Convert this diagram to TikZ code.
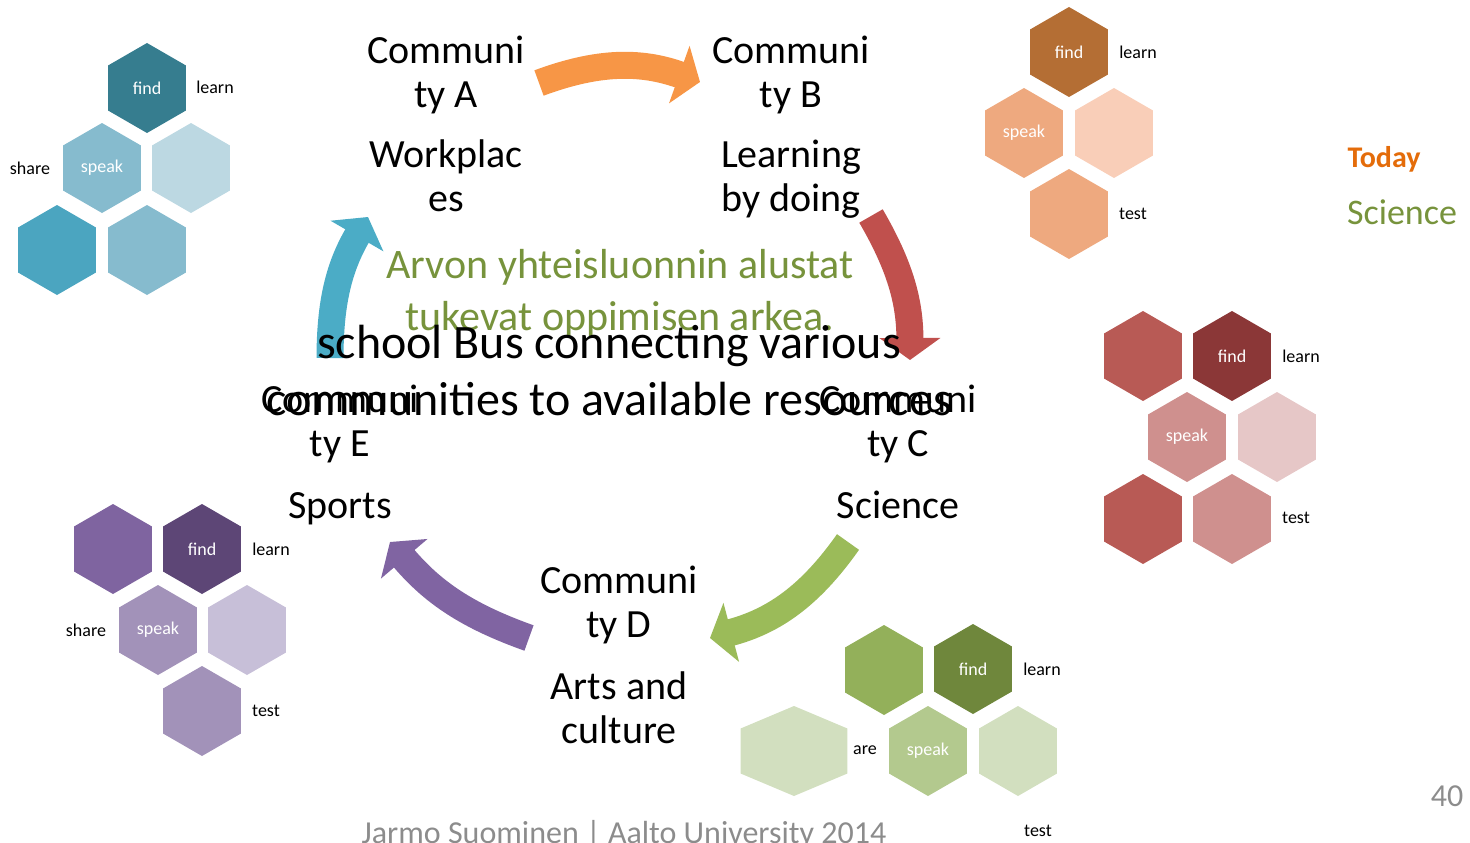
\documentclass[tikz,border=0pt]{standalone}
\usepackage{fontspec}
\setmainfont{Carlito}
\usetikzlibrary{shapes.geometric, arrows.meta}
\definecolor{tealD}{HTML}{367D8F}
\definecolor{tealM}{HTML}{86BBCE}
\definecolor{tealL}{HTML}{BCD8E2}
\definecolor{tealB}{HTML}{4BA5C0}
\definecolor{orD}{HTML}{B46E34}
\definecolor{orM}{HTML}{EEA97F}
\definecolor{orL}{HTML}{F9CEB8}
\definecolor{redT}{HTML}{B85A55}
\definecolor{redD}{HTML}{8B3737}
\definecolor{redM}{HTML}{CF908E}
\definecolor{redL}{HTML}{E6C7C7}
\definecolor{purT}{HTML}{7F64A0}
\definecolor{purD}{HTML}{5D4676}
\definecolor{purM}{HTML}{A292B9}
\definecolor{purL}{HTML}{C7BFD8}
\definecolor{grnT}{HTML}{93B05A}
\definecolor{grnD}{HTML}{6F873C}
\definecolor{grnM}{HTML}{B3C98E}
\definecolor{grnL}{HTML}{D2DFBF}
\definecolor{arrOr}{HTML}{F79646}
\definecolor{arrRed}{HTML}{C0504D}
\definecolor{arrGrn}{HTML}{9BBB59}
\definecolor{arrPur}{HTML}{8064A2}
\definecolor{arrTeal}{HTML}{4BACC6}
\definecolor{txtGrn}{HTML}{77933C}
\definecolor{txtOr}{HTML}{E46C0A}
\definecolor{txtGray}{HTML}{8C8C8C}
\tikzstyle{hexa} = [regular polygon, regular polygon sides=6, shape border rotate=30, minimum size=90pt, inner sep=0pt, text=white, font=\fontsize{18}{22}\selectfont]
\tikzstyle{tag} = [font=\fontsize{18}{22}\selectfont, inner sep=0pt]
\tikzstyle{comm} = [font=\fontsize{40}{44}\selectfont, align=center, anchor=base, inner sep=0pt]
\tikzstyle{bigarrow} = [line width=27pt, -{Triangle[length=22pt,width=60pt]}]

\begin{document}
\begin{tikzpicture}[x=1pt, y=-1pt]
	\useasboundingbox (0,0) rectangle (1470,843);

	\coordinate (aStart) at (539,83);
	\coordinate (aEnd) at (700,82);
	\coordinate (bStart) at (871,216);
	\coordinate (bEnd) at (910,360);
	\coordinate (cStart) at (848,542);
	\coordinate (cEnd) at (710,638);
	\coordinate (dStart) at (529,638);
	\coordinate (dEnd) at (390,542);
	\coordinate (eStart) at (330,358);
	\coordinate (eEnd) at (368,217);
		\draw [bigarrow, arrOr] (aStart) to[bend left=20] (aEnd);
		\draw [bigarrow, arrRed] (bStart) to[bend left=15] (bEnd);
		\draw [bigarrow, arrGrn] (cStart) to[bend left=20] (cEnd);
		\draw [bigarrow, arrPur] (dStart) to[bend left=15] (dEnd);
		\draw [bigarrow, arrTeal] (eStart) to[bend left=15] (eEnd);

	\node (tFind) [hexa, fill=tealD] at (147,88) {find};
	\node (tSpeak) [hexa, fill=tealM] at (102,168) {speak};
	\node (tLight) [hexa, fill=tealL] at (191,168) {};
	\node (tLow1) [hexa, fill=tealB] at (57,250) {};
	\node (tLow2) [hexa, fill=tealM] at (147,250) {};
	\node (tLearn) [tag] at (215,87) {learn};
	\node (tShare) [tag] at (30,168) {share};

	\node (oFind) [hexa, fill=orD] at (1069,52) {find};
	\node (oSpeak) [hexa, fill=orM] at (1024,133) {speak};
	\node (oLight) [hexa, fill=orL] at (1114,133) {};
	\node (oTest) [hexa, fill=orM] at (1069,214) {};
	\node (oLearn) [tag] at (1138,52) {learn};
	\node (oTestTag) [tag] at (1133,214) {test};

	\node (rTop) [hexa, fill=redT] at (1143,356) {};
	\node (rFind) [hexa, fill=redD] at (1232,356) {find};
	\node (rSpeak) [hexa, fill=redM] at (1187,437) {speak};
	\node (rLight) [hexa, fill=redL] at (1277,437) {};
	\node (rLow1) [hexa, fill=redT] at (1143,519) {};
	\node (rLow2) [hexa, fill=redM] at (1232,519) {};
	\node (rLearn) [tag] at (1301,356) {learn};
	\node (rTestTag) [tag] at (1296,518) {test};

	\node (pTop) [hexa, fill=purT] at (113,549) {};
	\node (pFind) [hexa, fill=purD] at (202,549) {find};
	\node (pSpeak) [hexa, fill=purM] at (158,630) {speak};
	\node (pLight) [hexa, fill=purL] at (247,630) {};
	\node (pTest) [hexa, fill=purM] at (202,711) {};
	\node (pLearn) [tag] at (271,549) {learn};
	\node (pShare) [tag] at (86,630) {share};
	\node (pTestTag) [tag] at (266,711) {test};

	\node (gTop) [hexa, fill=grnT] at (884,670) {};
	\node (gFind) [hexa, fill=grnD] at (973,669) {find};
	\node (gSpeak) [hexa, fill=grnM] at (928,751) {speak};
	\node (gLight) [hexa, fill=grnL] at (1018,751) {};
	\begin{scope}[shift={(794,751)}, xscale=1.37]
		\node (gWide) [hexa, fill=grnL, transform shape] at (0,0) {};
	\end{scope}
	\node (gLearn) [tag] at (1042,669) {learn};
	\node (gShare) [tag] at (865,750) {are};
	\node (gTestTag) [tag] at (1038,831) {test};

	\node (commA) [comm] at (446,107) {Communi\\ty A};
	\node (workA) [comm] at (446,211) {Workplac\\es};
	\node (commB) [comm] at (791,107) {Communi\\ty B};
	\node (learnB) [comm] at (791,211) {Learning\\by doing};
	\node (commC) [comm] at (898,456) {Communi\\ty C};
	\node (sciC) [comm] at (898,518) {Science};
	\node (commD) [comm] at (619,637) {Communi\\ty D};
	\node (artsD) [comm] at (619,743) {Arts and\\culture};
	\node (commE) [comm] at (340,456) {Communi\\ty E};
	\node (sportsE) [comm] at (340,518) {Sports};

	\node (arvon) [comm, text=txtGrn, font=\fontsize{42}{52}\selectfont] at (620,330) {Arvon yhteisluonnin alustat\\tukevat oppimisen arkea.};
	\node (bus) [comm, font=\fontsize{48}{57}\selectfont] at (609,415) {school Bus connecting various\\communities to available resources};

	\node (today) [comm, text=txtOr, font=\fontsize{30}{36}\selectfont\bfseries] at (1384,167) {Today};
	\node (science) [comm, text=txtGrn, font=\fontsize{36}{42}\selectfont] at (1402,224) {Science};
	\node (page) [comm, text=txtGray, font=\fontsize{32}{38}\selectfont] at (1447,806) {40};
	\node (footer) [comm, text=txtGray, font=\fontsize{32}{38}\selectfont] at (624,843) {Jarmo Suominen | Aalto University 2014};
\end{tikzpicture}
\end{document}
